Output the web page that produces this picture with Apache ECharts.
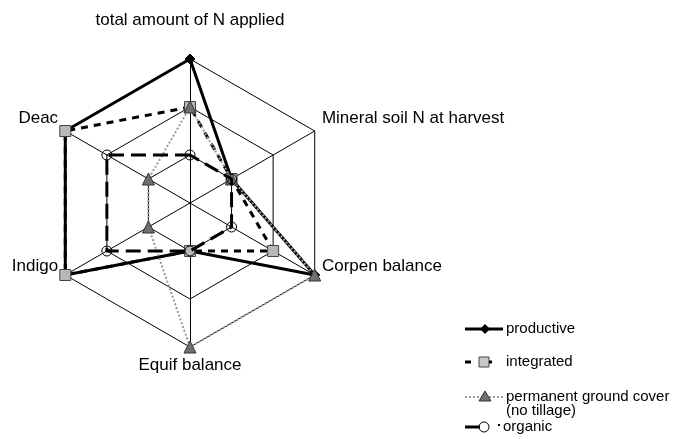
<!DOCTYPE html>
<html>
<head>
<meta charset="utf-8">
<script src="https://cdn.jsdelivr.net/npm/echarts@6/dist/echarts.min.js"></script>
<style>
  html, body { margin: 0; padding: 0; background: #fff; }
  #chart { width: 676px; height: 439px; }
</style>
</head>
<body>
<div id="chart"></div>
<script>
// Indicators in ECharts order (counter-clockwise from the top)
const indicatorNames = ['total amount of N applied', 'Deac', 'Indigo', 'Equif balance', 'Corpen balance', 'Mineral soil N at harvest'];
const indicatorMax = 3;
const seriesNames = ['productive', 'integrated', 'permanent ground cover\n(no tillage)', 'organic'];
const productive = [3, 3, 3, 1, 3, 1];
const integrated = [2, 3, 3, 1, 2, 1];
const groundCover = [2, 1, 1, 3, 3, 1];
const organic = [1, 2, 2, 1, 1, 1];

const FONT = '"Liberation Sans", Arial, Helvetica, sans-serif';
const nameKeys = {
  'total amount of N applied': 'top',
  'Deac': 'upper',
  'Mineral soil N at harvest': 'upper',
  'Indigo': 'lower',
  'Corpen balance': 'lower',
  'Equif balance': 'bottom'
};

const chart = echarts.init(document.getElementById('chart'), null, { renderer: 'canvas' });

const legendY = [329, 362, 397, 427];
const legendTextX = 506;

const option = {
  backgroundColor: '#ffffff',
  animation: false,
  radar: {
    center: [190, 203],
    radius: 144,
    startAngle: 90,
    splitNumber: 3,
    shape: 'polygon',
    nameGap: 6,
    indicator: indicatorNames.map(n => ({ name: n, min: 0, max: indicatorMax })),
    axisName: {
      color: '#000',
      fontSize: 17,
      fontFamily: FONT,
      formatter: function (name) { return '{' + nameKeys[name] + '|' + name + '}'; },
      rich: {
        top: { fontSize: 17, fontFamily: FONT, color: '#000', padding: [0, 0, 24, 0] },
        upper: { fontSize: 17, fontFamily: FONT, color: '#000', padding: [0, 2, 20, 2] },
        lower: { fontSize: 17, fontFamily: FONT, color: '#000', padding: [0, 2, 24, 2] },
        bottom: { fontSize: 17, fontFamily: FONT, color: '#000', padding: [4, 0, 0, 0] }
      }
    },
    axisLine: { lineStyle: { color: '#000', width: 1 } },
    splitLine: { lineStyle: { color: '#000', width: 1 } },
    splitArea: { show: false },
    axisTick: { show: false },
    axisLabel: { show: false }
  },
  series: [
    {
      type: 'radar',
      z: 2,
      data: [{
        name: seriesNames[0],
        value: productive,
        symbol: 'diamond',
        symbolSize: 10,
        itemStyle: { color: '#000', borderColor: '#000' },
        lineStyle: { color: '#000', width: 3, type: 'solid' }
      }]
    },
    {
      type: 'radar',
      z: 3,
      data: [{
        name: seriesNames[1],
        value: integrated,
        symbol: 'rect',
        symbolSize: 11,
        itemStyle: { color: '#b8b8b8', borderColor: '#444', borderWidth: 1 },
        lineStyle: { color: '#000', width: 3, type: [7, 6] }
      }]
    },
    {
      type: 'radar',
      z: 4,
      data: [{
        name: seriesNames[2],
        value: groundCover,
        symbol: 'triangle',
        symbolSize: 12,
        itemStyle: { color: '#707070', borderColor: '#333', borderWidth: 1 },
        lineStyle: { color: '#9a9a9a', width: 2, type: [2, 2] }
      }]
    },
    {
      type: 'radar',
      z: 5,
      data: [{
        name: seriesNames[3],
        value: organic,
        symbol: 'circle',
        symbolSize: 10,
        itemStyle: { color: 'rgba(255,255,255,0)', borderColor: '#000', borderWidth: 1 },
        lineStyle: { color: '#000', width: 3, type: [15, 7] }
      }]
    }
  ],
  graphic: [
    // productive
    { type: 'line', shape: { x1: 465, y1: legendY[0], x2: 503, y2: legendY[0] }, style: { stroke: '#000', lineWidth: 3 } },
    { type: 'polygon', shape: { points: [[485, legendY[0] - 5], [490, legendY[0]], [485, legendY[0] + 5], [480, legendY[0]]] }, style: { fill: '#000' } },
    { type: 'text', x: legendTextX, y: legendY[0], style: { text: 'productive', font: '15px ' + FONT, fill: '#000', verticalAlign: 'middle' } },
    // integrated
    { type: 'line', shape: { x1: 465, y1: legendY[1], x2: 471, y2: legendY[1] }, style: { stroke: '#000', lineWidth: 3 } },
    { type: 'rect', shape: { x: 479, y: legendY[1] - 5, width: 10, height: 10 }, style: { fill: '#c8c8c8', stroke: '#444', lineWidth: 1 } },
    { type: 'line', shape: { x1: 489, y1: legendY[1], x2: 492, y2: legendY[1] }, style: { stroke: '#000', lineWidth: 3 } },
    { type: 'text', x: legendTextX, y: legendY[1], style: { text: 'integrated', font: '15px ' + FONT, fill: '#000', verticalAlign: 'middle' } },
    // permanent ground cover
    { type: 'line', shape: { x1: 465, y1: legendY[2], x2: 505, y2: legendY[2] }, style: { stroke: '#9a9a9a', lineWidth: 2, lineDash: [2, 2] } },
    { type: 'polygon', shape: { points: [[485, legendY[2] - 6], [491, legendY[2] + 4], [479, legendY[2] + 4]] }, style: { fill: '#707070', stroke: '#333', lineWidth: 1 } },
    { type: 'text', x: legendTextX, y: legendY[2] + 7, style: { text: 'permanent ground cover\n(no tillage)', font: '15px ' + FONT, fill: '#000', verticalAlign: 'middle', lineHeight: 14 } },
    // organic
    { type: 'line', shape: { x1: 465, y1: legendY[3], x2: 480, y2: legendY[3] }, style: { stroke: '#000', lineWidth: 3 } },
    { type: 'circle', shape: { cx: 484, cy: legendY[3], r: 5 }, style: { fill: 'rgba(255,255,255,0)', stroke: '#000', lineWidth: 1 } },
    { type: 'rect', shape: { x: 498, y: legendY[3] - 3, width: 2, height: 2 }, style: { fill: '#000' } },
    { type: 'text', x: 503, y: legendY[3], style: { text: 'organic', font: '15px ' + FONT, fill: '#000', verticalAlign: 'middle' } }
  ]
};

chart.setOption(option);
</script>
</body>
</html>
